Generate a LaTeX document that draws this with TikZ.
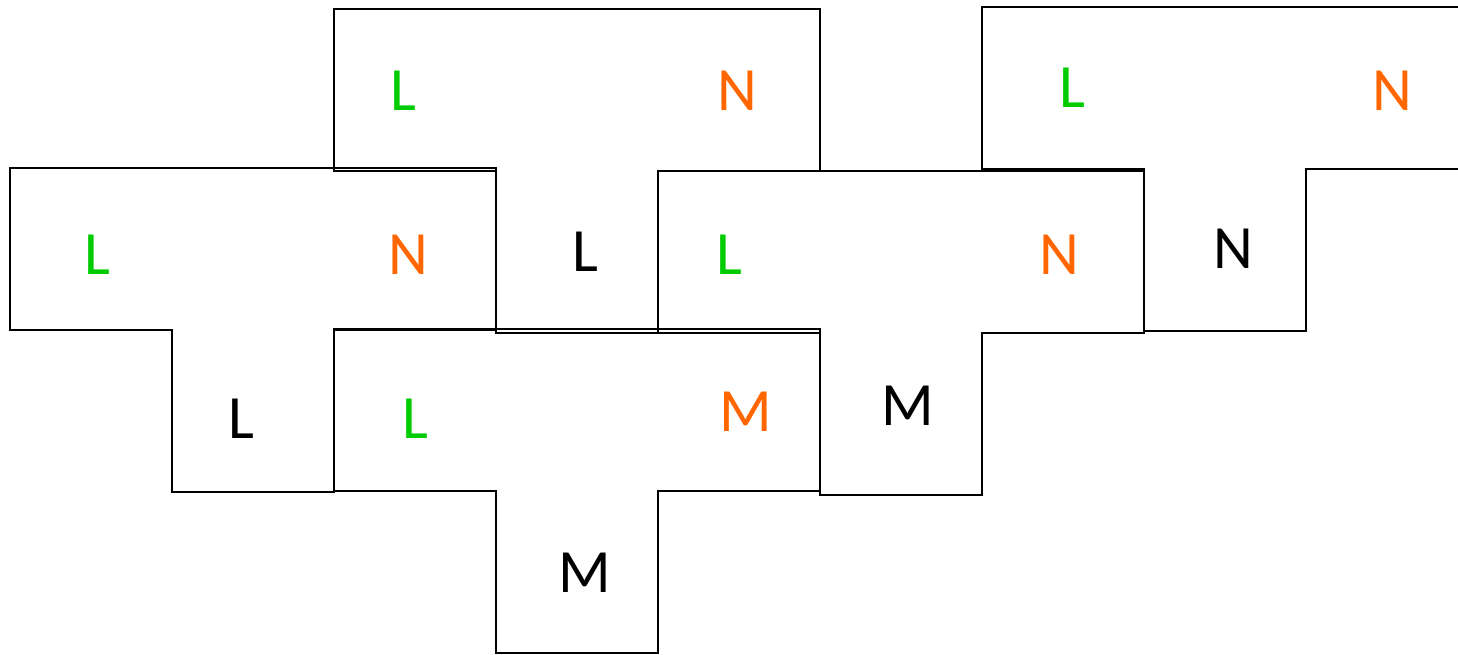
\documentclass[tikz,border=0pt]{standalone}
\usepackage{fontspec}
\setmainfont{Carlito}
\usetikzlibrary{positioning}
\definecolor{lgreen}{RGB}{0,204,0}
\definecolor{lorange}{RGB}{255,102,0}
\tikzset{
  tile/.style={draw,line width=1.1pt,line join=miter},
  tpiece/.pic={\draw[tile] (0,1) -- (1,1) -- (1,0) -- (2,0) -- (2,1) -- (3,1) -- (3,2) -- (0,2) -- cycle;},
  lbl/.style={font=\fontsize{35}{40}\selectfont,inner sep=0pt},
  lftlbl/.style={lbl,text=lgreen},
  rgtlbl/.style={lbl,text=lorange},
  stmlbl/.style={lbl,text=black}
}
\begin{document}
\begin{tikzpicture}[x=3.24cm,y=3.24cm]
  \useasboundingbox (-0.062,-0.01) rectangle (8.938,4.033);

  % T pieces, bar on top, stem below
  \foreach \x/\y in {0/0.995,2/1.98,4/0.98,2/0,6/1.99}
    \pic at (\x,\y) {tpiece};

  % left piece
  \node[lftlbl] (aL) at (0.54,2.46) {L};
  \node[rgtlbl] (aR) at (2.46,2.46) {N};
  \node[stmlbl] (aS) at (1.43,1.45) {L};
  % top piece
  \node[lftlbl] (bL) at (2.43,3.47) {L};
  \node[rgtlbl] (bR) at (4.49,3.47) {N};
  \node[stmlbl] (bS) at (3.55,2.48) {L};
  % middle right piece
  \node[lftlbl] (cL) at (4.44,2.46) {L};
  \node[rgtlbl] (cR) at (6.48,2.46) {N};
  \node[stmlbl] (cS) at (5.54,1.53) {M};
  % bottom piece
  \node[lftlbl] (dL) at (2.50,1.45) {L};
  \node[rgtlbl] (dR) at (4.54,1.49) {M};
  \node[stmlbl] (dS) at (3.55,0.50) {M};
  % far right piece
  \node[lftlbl] (eL) at (6.56,3.49) {L};
  \node[rgtlbl] (eR) at (8.53,3.47) {N};
  \node[stmlbl] (eS) at (7.55,2.50) {N};
\end{tikzpicture}
\end{document}
